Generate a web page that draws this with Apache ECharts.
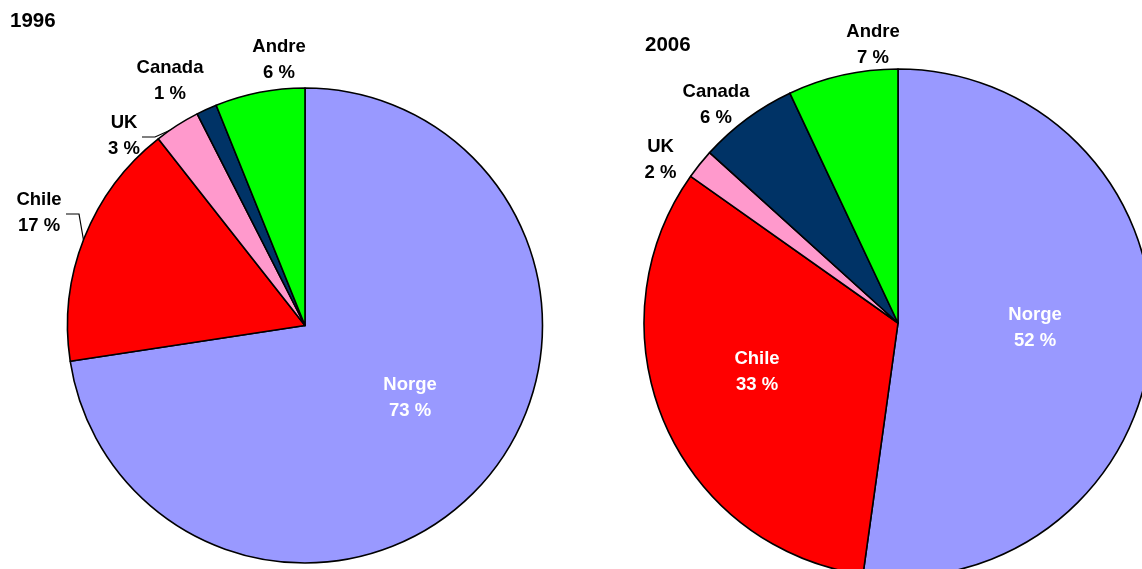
<!DOCTYPE html>
<html><head><meta charset="utf-8">
<script src="https://cdn.jsdelivr.net/npm/echarts@6/dist/echarts.min.js"></script>
<style>html,body{margin:0;padding:0;background:#fff}#c{width:1142px;height:569px}</style>
</head><body><div id="c"></div>
<script>
// ---- data ----
const categories = ['Norge', 'Chile', 'UK', 'Canada', 'Andre'];
const share1996 = [72.6, 16.8, 3.1, 1.4, 6.1];
const share2006 = [52.2, 32.6, 1.9, 6.3, 7.0];
const years = ['1996', '2006'];

// ---- styles / layout ----
const colors = ['#9999FF', '#FF0000', '#FF99CC', '#003366', '#00FF00'];
const FONT = 'Arial, "Liberation Sans", sans-serif';
const pies = [
  { center: [305, 325.5], radius: 237.5, titlePos: [10, 11],
    labels: {
      Norge: { at: [410, 398], color: '#fff' },
      Chile: { at: [39, 213], line: [[84, 243], [79, 214], [66, 214]] },
      UK: { at: [124, 135.5], line: [[175, 128], [155, 137], [142, 137]] },
      Canada: { at: [170, 80.5] },
      Andre: { at: [279, 60] }
    } },
  { center: [898, 323], radius: 254, titlePos: [645, 35],
    labels: {
      Norge: { at: [1035, 328], color: '#fff' },
      Chile: { at: [757, 371.5], color: '#fff' },
      UK: { at: [660.5, 160] },
      Canada: { at: [716, 104.5] },
      Andre: { at: [873, 44.5] }
    } }
];

const seriesValues = [share1996, share2006];

const chart = echarts.init(document.getElementById('c'), null, { renderer: 'canvas' });

const series = seriesValues.map((vals, si) => {
  const cfg = pies[si];
  return {
    type: 'pie',
    center: cfg.center,
    radius: cfg.radius,
    startAngle: 90,
    clockwise: true,
    avoidLabelOverlap: false,
    animation: false,
    silent: true,
    itemStyle: { borderColor: '#000', borderWidth: 1.6 },
    label: {
      show: true,
      position: 'outside',
      fontFamily: FONT,
      fontWeight: 'bold',
      fontSize: 18.5,
      lineHeight: 26,
      color: '#000',
      formatter: p => p.name + '\n' + Math.round(p.value) + ' %'
    },
    labelLine: { show: true, lineStyle: { color: '#000', width: 1.2 } },
    data: categories.map((name, i) => {
      const lc = cfg.labels[name];
      return {
        name: name,
        value: vals[i],
        itemStyle: { color: colors[i] },
        label: { color: lc.color || '#000' },
        labelLine: { show: !!lc.line }
      };
    }),
    labelLayout: function (params) {
      const name = categories[params.dataIndex];
      const lc = cfg.labels[name];
      const out = { x: lc.at[0], y: lc.at[1], align: 'center', verticalAlign: 'middle' };
      if (lc.line) out.labelLinePoints = lc.line;
      return out;
    }
  };
});

chart.setOption({
  backgroundColor: '#fff',
  animation: false,
  title: years.map((y, i) => ({
    text: y,
    left: pies[i].titlePos[0],
    top: pies[i].titlePos[1],
    padding: 0,
    textStyle: { fontFamily: FONT, fontWeight: 'bold', fontSize: 20.5, lineHeight: 20, color: '#000' }
  })),
  series: series
});
</script>
</body></html>
